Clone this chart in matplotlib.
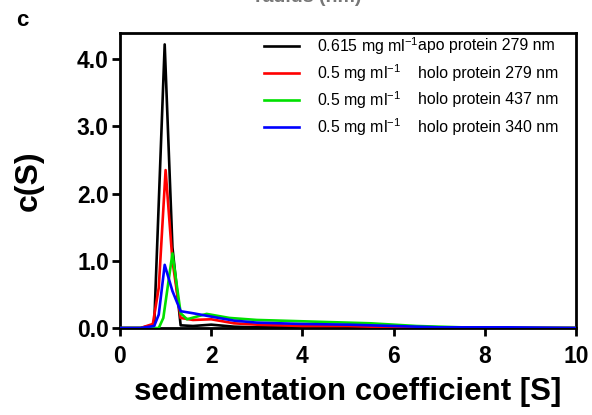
import numpy as np
import matplotlib
matplotlib.use("Agg")
import matplotlib.pyplot as plt

plt.rcParams['font.family'] = ['Liberation Sans', 'DejaVu Sans']

# sedimentation coefficient grid [S] and c(S) values
s_apo279 = [0.0, 0.45, 0.75, 0.98, 1.15, 1.33, 1.6, 2.0, 2.5, 3.0, 4.0, 6.0, 8.0, 10.0]
c_apo279 = [0.0, 0.0, 0.05, 4.22, 1.20, 0.04, 0.03, 0.05, 0.02, 0.01, 0.01, 0.0, 0.0, 0.0]

s_holo279 = [0.0, 0.45, 0.72, 0.85, 1.0, 1.15, 1.33, 1.6, 2.0, 2.5, 3.0, 4.0, 5.0, 6.0, 8.0, 10.0]
c_holo279 = [0.0, 0.0, 0.06, 0.6, 2.35, 1.0, 0.15, 0.12, 0.13, 0.07, 0.05, 0.03, 0.03, 0.01, 0.0, 0.0]

s_holo437 = [0.0, 0.45, 0.85, 0.95, 1.15, 1.33, 1.47, 1.9, 2.4, 3.0, 4.0, 5.0, 5.5, 6.5, 8.0, 10.0]
c_holo437 = [0.0, 0.0, 0.0, 0.15, 1.11, 0.22, 0.13, 0.21, 0.15, 0.12, 0.10, 0.08, 0.07, 0.03, 0.0, 0.0]

s_holo340 = [0.0, 0.45, 0.75, 0.85, 0.98, 1.15, 1.33, 1.6, 2.0, 2.5, 3.0, 4.0, 5.0, 6.0, 7.0, 8.5, 10.0]
c_holo340 = [0.0, 0.0, 0.03, 0.2, 0.94, 0.55, 0.25, 0.22, 0.17, 0.11, 0.08, 0.06, 0.05, 0.03, 0.01, 0.01, 0.0]

series = [
    (s_apo279, c_apo279, 'black', '0.615 mg ml$^{\\mathregular{-1}}$', 'apo protein 279 nm'),
    (s_holo279, c_holo279, '#ff0000', '0.5 mg ml$^{\\mathregular{-1}}$', 'holo protein 279 nm'),
    (s_holo437, c_holo437, '#00e000', '0.5 mg ml$^{\\mathregular{-1}}$', 'holo protein 437 nm'),
    (s_holo340, c_holo340, '#0000ff', '0.5 mg ml$^{\\mathregular{-1}}$', 'holo protein 340 nm'),
]

fig = plt.figure(figsize=(5.92, 4.15), dpi=100)
ax = fig.add_axes([0.2027, 0.2096, 0.7703, 0.7109])

for s, c, col, conc, desc in series:
    ax.plot(s, c, color=col, lw=1.9, zorder=3)

ax.set_xlim(0, 10)
ax.set_ylim(0, 4.39)
ax.set_xticks([0, 2, 4, 6, 8, 10])
ax.set_yticks([0, 1, 2, 3, 4])
ax.set_yticklabels(['0.0', '1.0', '2.0', '3.0', '4.0'])
for lab in ax.get_xticklabels() + ax.get_yticklabels():
    lab.set_fontweight('bold')
    lab.set_fontsize(16.5)
ax.tick_params(width=2, length=6, direction='out')
ax.tick_params(axis='x', pad=6)
ax.tick_params(axis='y', pad=2)
for sp in ax.spines.values():
    sp.set_linewidth(2)

ax.set_xlabel('sedimentation coefficient [S]', fontsize=22.5, fontweight='bold', labelpad=7)
ax.set_ylabel('c(S)', fontsize=23, fontweight='bold', labelpad=24)

# legend drawn by hand to keep the two text columns aligned
rows_y = [0.956, 0.864, 0.773, 0.681]
for (s, c, col, conc, desc), y in zip(series, rows_y):
    ax.plot([0.316, 0.393], [y, y], color=col, lw=1.9, transform=ax.transAxes)
    ax.text(0.433, y, conc, transform=ax.transAxes, fontsize=11.4, va='center')
    ax.text(0.653, y, desc, transform=ax.transAxes, fontsize=11.4, va='center')

fig.text(0.028, 0.95, 'c', fontsize=16, fontweight='bold', va='center')
fig.text(0.52, 1.007, 'radius (nm)', fontsize=14, fontweight='bold', color='#777777',
         ha='center', va='center')

fig.savefig('out.png', dpi=100)
